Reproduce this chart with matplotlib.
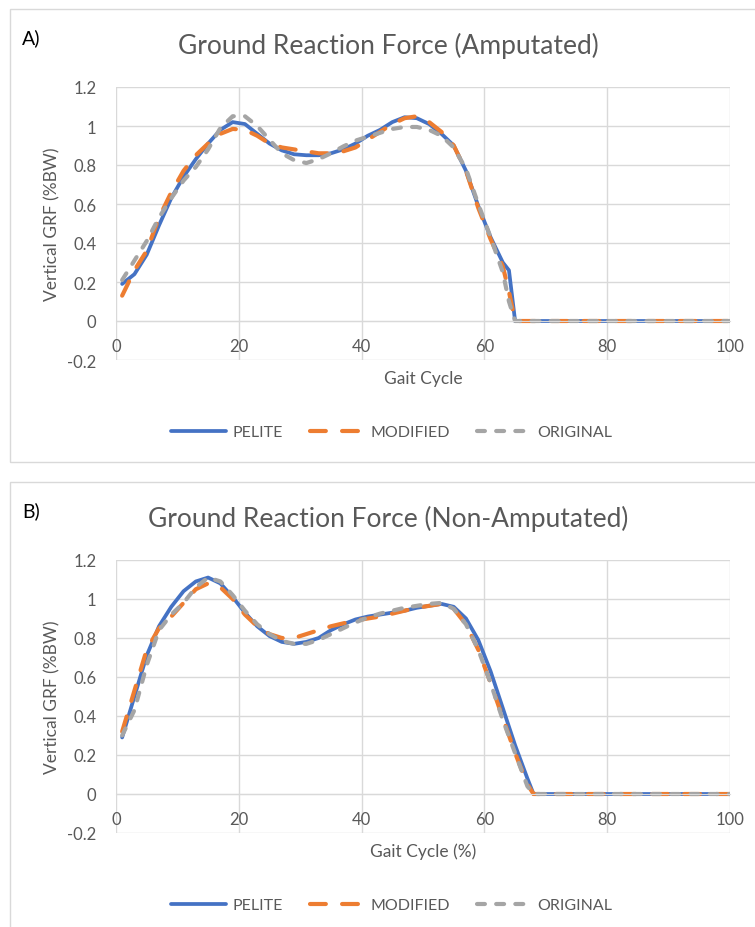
import matplotlib
matplotlib.use("Agg")
import matplotlib.pyplot as plt
from matplotlib.patches import Rectangle

plt.rcParams['font.family'] = ['Lato', 'DejaVu Sans']

# ---- data ----
gait_a = [1, 3, 5, 7, 9, 11, 13, 15, 17, 19, 21, 23, 25, 27, 29, 31, 33, 35, 37, 39,
          41, 43, 45, 47, 49, 51, 53, 55, 57, 59, 61, 63, 64, 65, 70, 75, 80, 85, 90, 95, 100]
pelite_a = [0.19, 0.24, 0.34, 0.49, 0.63, 0.74, 0.83, 0.91, 0.98, 1.02, 1.01, 0.96, 0.91, 0.875,
            0.855, 0.85, 0.85, 0.86, 0.88, 0.91, 0.95, 0.98, 1.02, 1.045, 1.04, 1.01, 0.96, 0.90,
            0.77, 0.59, 0.43, 0.30, 0.26, 0.0, 0, 0, 0, 0, 0, 0, 0]
modified_a = [0.13, 0.26, 0.36, 0.53, 0.66, 0.77, 0.85, 0.91, 0.96, 0.985, 0.98, 0.95, 0.91, 0.89,
              0.88, 0.87, 0.86, 0.86, 0.87, 0.89, 0.93, 0.97, 1.01, 1.04, 1.05, 1.02, 0.97, 0.90,
              0.77, 0.58, 0.42, 0.28, 0.15, 0.0, 0, 0, 0, 0, 0, 0, 0]
original_a = [0.21, 0.31, 0.41, 0.53, 0.63, 0.72, 0.79, 0.88, 0.99, 1.05, 1.05, 1.0, 0.93, 0.86,
              0.825, 0.81, 0.83, 0.86, 0.895, 0.925, 0.945, 0.965, 0.985, 0.995, 0.995, 0.98, 0.95,
              0.89, 0.78, 0.60, 0.43, 0.25, 0.10, 0.0, 0, 0, 0, 0, 0, 0, 0]

gait_b = [1, 3, 5, 7, 9, 11, 13, 15, 17, 19, 21, 23, 25, 27, 29, 31, 33, 35, 37, 39, 41,
          43, 45, 47, 49, 51, 53, 55, 57, 59, 61, 63, 65, 67, 68, 70, 75, 80, 85, 90, 95, 100]
pelite_b = [0.29, 0.50, 0.71, 0.86, 0.96, 1.04, 1.09, 1.11, 1.08, 1.01, 0.93, 0.86, 0.81, 0.78,
            0.77, 0.78, 0.80, 0.84, 0.87, 0.895, 0.91, 0.92, 0.93, 0.94, 0.955, 0.965, 0.975,
            0.96, 0.90, 0.79, 0.63, 0.44, 0.25, 0.08, 0.0, 0, 0, 0, 0, 0, 0, 0]
modified_b = [0.32, 0.53, 0.74, 0.85, 0.91, 0.98, 1.05, 1.08, 1.06, 1.0, 0.92, 0.86, 0.82, 0.80,
              0.80, 0.82, 0.84, 0.86, 0.875, 0.89, 0.90, 0.91, 0.925, 0.94, 0.955, 0.965, 0.975,
              0.95, 0.87, 0.74, 0.57, 0.39, 0.21, 0.05, 0.0, 0, 0, 0, 0, 0, 0, 0]
original_b = [0.30, 0.43, 0.66, 0.84, 0.92, 0.98, 1.06, 1.11, 1.09, 1.02, 0.94, 0.87, 0.82, 0.785,
              0.77, 0.77, 0.79, 0.82, 0.85, 0.88, 0.905, 0.925, 0.94, 0.955, 0.965, 0.975, 0.98,
              0.95, 0.87, 0.74, 0.57, 0.38, 0.21, 0.04, 0.0, 0, 0, 0, 0, 0, 0, 0]

y_ticks = [-0.2, 0, 0.2, 0.4, 0.6, 0.8, 1, 1.2]
y_tick_labels = ["-0.2", "0", "0.2", "0.4", "0.6", "0.8", "1", "1.2"]
x_ticks = [0, 20, 40, 60, 80, 100]

text_col = "#595959"
grid_col = "#d9d9d9"
blue = "#4472C4"
orange = "#ED7D31"
gray = "#A5A5A5"

W, H = 755, 928
fig = plt.figure(figsize=(W / 100, H / 100), dpi=100)


def px_rect(left, top, right, bottom):
    return [left / W, 1 - bottom / H, (right - left) / W, (bottom - top) / H]


def draw_panel(top, letter, title, xlabel, gait, pel, mod, org):
    # outer chart frame
    fig.patches.append(Rectangle((10 / W, 1 - (top + 453) / H), 760 / W, 453 / H,
                                 transform=fig.transFigure, fill=False,
                                 edgecolor=grid_col, linewidth=1.0))
    fig.text(22 / W, 1 - (top + 28) / H, letter, fontsize=14, color="black", va="center")
    fig.text(388 / W, 1 - (top + 36) / H, title, fontsize=19, color=text_col,
             ha="center", va="center")

    ax = fig.add_axes(px_rect(116, top + 78, 730, top + 351))
    ax.plot(gait, pel, color=blue, lw=2.7, solid_capstyle="round", solid_joinstyle="round",
            label="PELITE")
    ax.plot(gait, mod, color=orange, lw=3.0, linestyle=(0, (3.8, 3.9)),
            dash_capstyle="round", label="MODIFIED")
    ax.plot(gait, org, color=gray, lw=3.0, linestyle=(0, (1.9, 2.7)),
            dash_capstyle="round", label="ORIGINAL")

    ax.set_xlim(0, 100)
    ax.set_ylim(-0.2, 1.2)
    ax.set_yticks(y_ticks)
    ax.set_yticklabels(y_tick_labels)
    ax.set_xticks(x_ticks)
    ax.grid(True, color=grid_col, linewidth=1.0)
    ax.set_axisbelow(True)
    for s in ["top", "right", "left"]:
        ax.spines[s].set_visible(False)
    ax.spines["bottom"].set_position(("data", 0))
    ax.spines["bottom"].set_color(grid_col)
    ax.tick_params(axis="both", length=0, labelsize=12, labelcolor=text_col)
    ax.tick_params(axis="y", pad=14)
    ax.tick_params(axis="x", pad=12)

    fig.text(52 / W, 1 - (top + 214) / H, "Vertical GRF (%BW)", fontsize=12.5,
             color=text_col, rotation=90, ha="center", va="center")
    fig.text(423 / W, 1 - (top + 369) / H, xlabel, fontsize=12.5, color=text_col,
             ha="center", va="center")

    fig.legend(*ax.get_legend_handles_labels(), loc="center",
               bbox_to_anchor=(392 / W, 1 - (top + 423) / H), ncol=3, frameon=False,
               fontsize=11.5, labelcolor=text_col, handlelength=3.4, columnspacing=1.7,
               handletextpad=0.4)


draw_panel(10, "A)", "Ground Reaction Force (Amputated)", "Gait Cycle",
           gait_a, pelite_a, modified_a, original_a)
draw_panel(483, "B)", "Ground Reaction Force (Non-Amputated)", "Gait Cycle (%)",
           gait_b, pelite_b, modified_b, original_b)

plt.savefig("out.png", dpi=100)
